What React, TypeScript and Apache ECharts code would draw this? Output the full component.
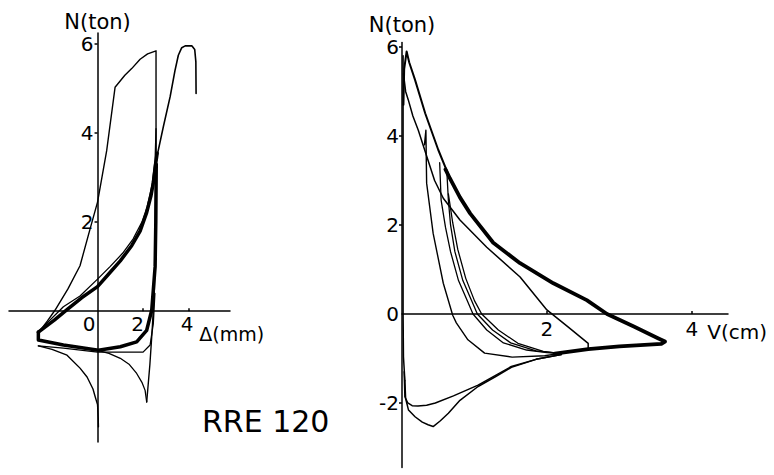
import React, { useEffect, useRef } from "react";
import * as echarts from "echarts";

// ---------- Left panel: N (ton) vs Δ (mm) ----------
const leftXTicks = [0, 2, 4];
const leftYTicks = [2, 4, 6];

const leftOuterLoop = [
  [-2.6, -0.49], [-2.2, -0.22], [-1.87, 0.02], [-1.3, 0.5], [-0.77, 1.02], [-0.3, 1.9],
  [0, 2.45], [0.4, 3.6], [0.77, 5.03], [1.2, 5.3], [1.5, 5.45], [1.87, 5.66], [2.2, 5.78],
  [2.57, 5.85], [2.57, 4.0], [2.54, 2.0], [2.5, 0.5], [2.4, -0.43], [2.3, -1.2], [2.16, -2.04],
];
const leftThickUp = [
  [-2.6, -0.47], [-1.9, -0.2], [-1.3, 0.05], [-0.7, 0.3], [0, 0.55], [0.5, 0.84], [1.0, 1.13],
  [1.5, 1.47], [1.87, 1.8], [2.15, 2.2], [2.35, 2.6], [2.45, 2.88], [2.55, 3.3], [2.62, 3.55],
];
const leftPeakThin = [
  [2.45, 2.88], [2.6, 3.45], [2.89, 4.14], [3.19, 4.82], [3.4, 5.4], [3.55, 5.75], [3.7, 5.92],
  [3.85, 5.96], [4.15, 5.96], [4.27, 5.88], [4.32, 5.6], [4.33, 4.89],
];
const leftThickDown = [
  [2.58, 3.3], [2.56, 2.0], [2.53, 1.0], [2.45, 0.47], [2.38, 0.02], [2.16, -0.43], [1.72, -0.69],
  [1.0, -0.8], [0.04, -0.88], [-1.5, -0.76], [-2.6, -0.65], [-2.6, -0.47],
];
const leftBottomThin = [
  [-2.6, -0.78], [-1.5, -0.83], [0, -0.92], [1.0, -0.92], [2.0, -0.92], [2.31, -0.76],
  [2.45, -0.28], [2.52, 0.4],
];
const leftSpikeThin = [
  [-2.6, -0.46], [-1.5, 0.1], [-0.77, 0.34], [0, 0.72], [0.55, 1.0], [1.1, 1.3], [1.56, 1.62],
  [1.95, 2.0], [2.18, 2.34], [2.4, 2.85], [2.53, 3.4], [2.57, 4.1], [2.57, 3.2],
];
const leftLowerLeft = [
  [-2.6, -0.78], [-2.0, -0.86], [-1.34, -0.99], [-0.77, -1.28], [-0.46, -1.48], [-0.2, -1.75],
  [-0.1, -1.93], [0, -2.1], [0.03, -2.4], [0.04, -2.6],
];
const leftLowerRight = [
  [0, -0.88], [0.5, -0.95], [1.0, -1.06], [1.4, -1.2], [1.72, -1.4], [1.95, -1.6], [2.09, -1.78],
  [2.16, -2.04],
];

// ---------- Right panel: N (ton) vs V (cm) ----------
const rightXTicks = [2, 4];
const rightYTicks = [-2, 0, 2, 4, 6];

const rightPeak = [
  [0.02, 4.7], [0.03, 5.5], [0.064, 5.9], [0.1, 5.65], [0.18, 5.26], [0.32, 4.51], [0.5, 3.69],
  [0.66, 3.05],
];
const rightEnvelope = [
  [0.6, 3.25], [0.66, 3.05], [0.8, 2.62], [0.94, 2.26], [1.26, 1.6], [1.63, 1.14], [2.09, 0.69],
  [2.55, 0.31], [2.83, 0.0], [3.2, -0.28], [3.54, -0.55], [3.63, -0.62], [3.58, -0.67],
  [3.0, -0.73], [2.57, -0.79], [2.11, -0.89],
];
const rightInner = [
  [0.02, 5.4], [0.05, 5.0], [0.087, 4.81], [0.15, 4.45], [0.225, 4.13], [0.34, 3.55], [0.45, 3.0],
  [0.57, 2.6], [0.8, 2.11], [1.17, 1.5], [1.63, 0.83], [2.0, 0.09], [2.3, -0.3], [2.57, -0.66],
  [2.57, -0.79],
];
const rightLoop2 = [
  [0.31, 3.8], [0.33, 4.13], [0.335, 3.5], [0.34, 2.94], [0.43, 1.81], [0.57, 0.69], [0.7, -0.03],
  [0.75, -0.2], [0.91, -0.58], [1.14, -0.88], [1.52, -0.97], [1.97, -0.94], [2.2, -0.88],
];
const rightBundleA = [
  [0.52, 3.4], [0.54, 2.56], [0.6, 1.95], [0.67, 1.4], [0.78, 0.75], [0.9, 0.3], [0.98, 0.0],
  [1.17, -0.36], [1.4, -0.65], [1.72, -0.81], [2.0, -0.87], [2.2, -0.89],
];
const rightBundleB = [
  [0.62, 3.17], [0.64, 2.56], [0.67, 2.0], [0.73, 1.4], [0.84, 0.75], [0.96, 0.3], [1.04, 0.0],
  [1.25, -0.36], [1.5, -0.65], [1.85, -0.83], [2.2, -0.89],
];
const rightBundleC = [
  [0.64, 2.7], [0.7, 2.05], [0.77, 1.45], [0.88, 0.8], [1.0, 0.3], [1.1, 0.0], [1.33, -0.36],
  [1.6, -0.66], [1.95, -0.84], [2.2, -0.89],
];
const rightAxisHug = [
  [0.015, 5.8], [0.015, 3.0], [0.015, 0.0], [0.02, -0.96], [0.04, -1.5],
];
const rightLowerA = [
  [0.03, -1.3], [0.04, -1.86], [0.08, -2.0], [0.14, -2.06], [0.22, -2.07], [0.34, -2.05],
  [0.46, -2.0], [0.71, -1.84], [1.05, -1.6], [1.51, -1.18], [1.85, -1.02], [2.2, -0.91],
];
const rightLowerB = [
  [0.04, -1.5], [0.05, -1.9], [0.09, -2.16], [0.18, -2.31], [0.28, -2.43], [0.36, -2.49],
  [0.43, -2.53], [0.53, -2.4], [0.64, -2.23], [0.8, -1.94], [1.05, -1.63], [1.3, -1.4],
  [1.51, -1.2], [1.85, -1.02], [2.2, -0.91],
];

const FONT = "DejaVu Sans";
const BLACK = "#000";

function curve(data: number[][], idx: number, width: number) {
  return {
    type: "line",
    xAxisIndex: idx,
    yAxisIndex: idx,
    data,
    showSymbol: false,
    symbol: "none",
    silent: true,
    lineStyle: { color: BLACK, width, cap: "round", join: "round" },
  };
}

const labelBase = { color: BLACK, fontSize: 20, fontFamily: FONT };
const axisLineStyle = { onZero: false, lineStyle: { color: BLACK, width: 1.5 } };

export default function App() {
  const ref = useRef<HTMLDivElement>(null);
  useEffect(() => {
    const chart = echarts.init(ref.current!, null, { renderer: "svg" });
    const option: any = {
      animation: false,
      backgroundColor: "#fff",
      textStyle: { fontFamily: FONT, color: BLACK },
      grid: [
        { left: 9, top: 33, width: 221, height: 409 },
        { left: 402, top: 42.5, width: 326, height: 425 },
      ],
      xAxis: [
        {
          type: "value", gridIndex: 0, min: -3.89, max: 5.82,
          position: "bottom", offset: -130.84,
          axisLine: axisLineStyle,
          splitLine: { show: false },
          axisTick: { customValues: [2, 4], inside: true, length: 3, lineStyle: { color: BLACK, width: 1.5 } },
          axisLabel: {
            ...labelBase, margin: 3, customValues: leftXTicks,
            formatter: (v: number) => (v === 0 ? "{a|0}" : v === 2 ? "{b|2}" : "{c|4}"),
            rich: {
              a: { ...labelBase, padding: [0, 17, 0, 0] },
              b: { ...labelBase, padding: [0, 11, 0, 0] },
              c: { ...labelBase, padding: [0, 3, 0, 0] },
            },
          },
          name: "Δ(mm)", nameLocation: "end", nameGap: 28,
          nameTextStyle: { ...labelBase, fontSize: 19, align: "right", verticalAlign: "top", padding: [13, 0, 0, 0] },
        },
        {
          type: "value", gridIndex: 1, min: 0, max: 4.5,
          position: "bottom", offset: -153.53,
          axisLine: axisLineStyle,
          splitLine: { show: false },
          axisTick: { customValues: [2, 4], inside: true, length: 3, lineStyle: { color: BLACK, width: 1.5 } },
          axisLabel: { ...labelBase, margin: 5, customValues: rightXTicks },
          name: "V(cm)", nameLocation: "end", nameGap: 39,
          nameTextStyle: { ...labelBase, align: "right", verticalAlign: "top", padding: [8, 0, 0, 0] },
        },
      ],
      yAxis: [
        {
          type: "value", gridIndex: 0, min: -2.94, max: 6.25,
          position: "left", offset: -88.54,
          axisLine: axisLineStyle,
          splitLine: { show: false },
          axisTick: { customValues: leftYTicks, length: 3, lineStyle: { color: BLACK, width: 1.5 } },
          axisLabel: { ...labelBase, margin: 4, customValues: leftYTicks },
          name: "N(ton)", nameLocation: "end", nameGap: 1,
          nameTextStyle: { ...labelBase, fontSize: 21 },
        },
        {
          type: "value", gridIndex: 1, min: -3.45, max: 6.1,
          position: "left", offset: 0,
          axisLine: axisLineStyle,
          splitLine: { show: false },
          axisTick: { customValues: [-2, 2, 4, 6], length: 3, lineStyle: { color: BLACK, width: 1.5 } },
          axisLabel: { ...labelBase, margin: 3, customValues: rightYTicks },
          name: "N(ton)", nameLocation: "end", nameGap: 7,
          nameTextStyle: { ...labelBase, fontSize: 21 },
        },
      ],
      graphic: [
        {
          type: "text", left: 202, top: 406,
          style: { text: "RRE 120", font: `30px "${FONT}"`, fill: BLACK },
        },
      ],
      series: [
        curve(leftOuterLoop, 0, 1.4),
        curve(leftThickUp, 0, 3.5),
        curve(leftPeakThin, 0, 1.6),
        curve(leftThickDown, 0, 3.5),
        curve(leftBottomThin, 0, 1.3),
        curve(leftSpikeThin, 0, 1.3),
        curve(leftLowerLeft, 0, 1.4),
        curve(leftLowerRight, 0, 1.3),
        curve(rightPeak, 1, 2),
        curve(rightEnvelope, 1, 3.8),
        curve(rightInner, 1, 1.5),
        curve(rightLoop2, 1, 1.4),
        curve(rightBundleA, 1, 1.3),
        curve(rightBundleB, 1, 1.3),
        curve(rightBundleC, 1, 1.3),
        curve(rightAxisHug, 1, 1.5),
        curve(rightLowerA, 1, 1.5),
        curve(rightLowerB, 1, 1.5),
      ],
    };
    chart.setOption(option);
    return () => chart.dispose();
  }, []);
  return (
    <div
      ref={ref}
      style={{ position: "fixed", left: 0, top: 0, width: 774, height: 475, background: "#fff" }}
    />
  );
}
